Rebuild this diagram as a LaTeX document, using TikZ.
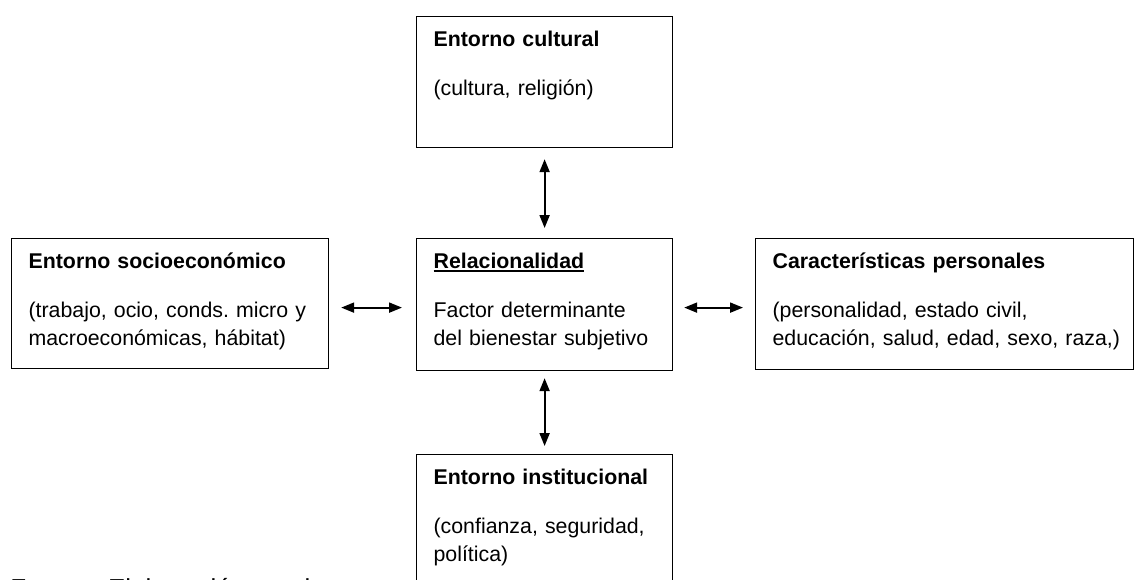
\documentclass[tikz,border=0pt]{standalone}
\usepackage{fontspec}
\setmainfont{Liberation Sans}
\usetikzlibrary{arrows.meta}
\tikzset{caja/.style 2 args={draw, line width=.9pt, anchor=north west, align=left, inner xsep=12.75pt, inner ysep=10.5pt, text height=12pt, text width=#1, text depth=#2, font=\fontsize{16pt}{21pt}\selectfont\frenchspacing}}
\tikzset{flecha/.style={line width=1.5pt, <->, >={Triangle[length=9.75pt,width=7.5pt]}}}
\newcommand{\subrayado}[1]{\setbox0\hbox{#1}\rlap{\rule[-2.6pt]{\wd0}{1.3pt}}\box0}
\newcommand{\saltocaja}{\\[15.4pt]}

\begin{document}
\begin{tikzpicture}[x=.75pt, y=-.75pt]
\useasboundingbox (0,0) rectangle (1134,579);
\clip (0,0) rectangle (1134,579);
\node[caja={166.5pt}{65.25pt}] (cultural) at (416,16) {\textbf{Entorno cultural}\saltocaja (cultura, religión)};
\node[caja={166.5pt}{66pt}] (rel) at (416,238) {\textbf{\subrayado{Relacionalidad}}\saltocaja Factor determinante\\ del bienestar subjetivo};
\node[caja={212.25pt}{64.5pt}] (soc) at (11,238) {\textbf{Entorno socioeconómico}\saltocaja (trabajo, ocio, conds. micro y\\ macroeconómicas, hábitat)};
\node[caja={258pt}{65.25pt}] (pers) at (755,238) {\textbf{Características personales}\saltocaja (personalidad, estado civil,\\ \mbox{educación, salud, edad, sexo, raza,)}};
\node[caja={166.5pt}{72pt}] (inst) at (416,454) {\textbf{Entorno institucional}\saltocaja (confianza, seguridad,\\ política)};
\node[anchor=base west, inner sep=0, font=\fontsize{19.5pt}{23pt}\selectfont] (fuente) at (10,597) {Fuente: Elaboración propia};

\draw[flecha, shorten <=8.25pt, shorten >=7.5pt] (cultural.south) -- (rel.north);
\draw[flecha, shorten <=5.25pt, shorten >=6pt] (rel.south) -- (inst.north);
\draw[flecha, shorten <=9pt, shorten >=10.5pt] ([yshift=-3pt]soc.east) -- ([yshift=-3pt]soc.east -| rel.west);
\draw[flecha, shorten <=8.25pt, shorten >=9pt] ([yshift=-2.25pt]rel.east) -- ([yshift=-2.25pt]rel.east -| pers.west);
\end{tikzpicture}
\end{document}
